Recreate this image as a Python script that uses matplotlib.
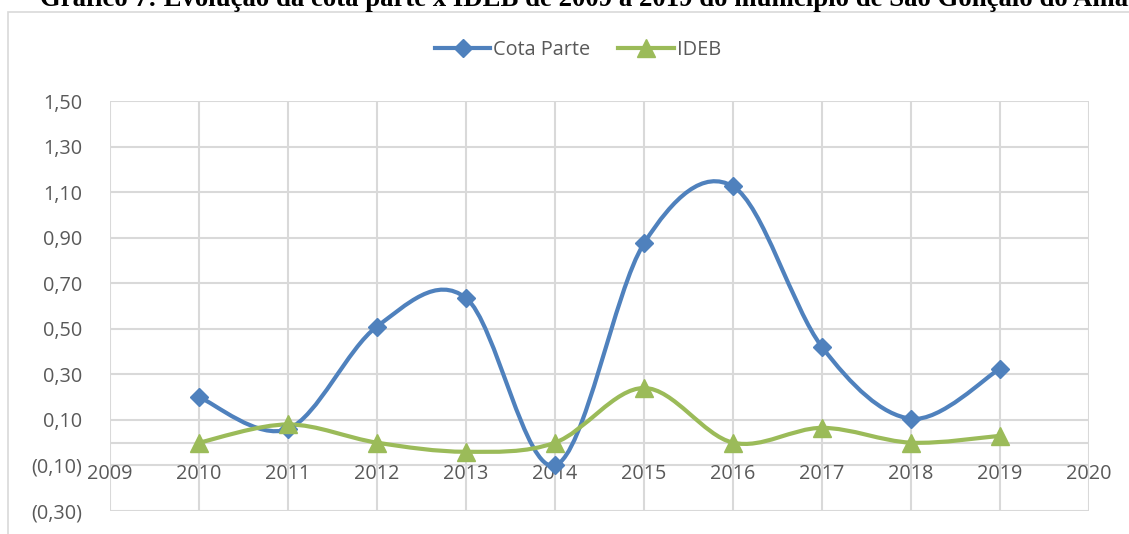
import numpy as np
import matplotlib
matplotlib.use("Agg")
import matplotlib.pyplot as plt
from matplotlib.path import Path
from matplotlib.patches import PathPatch, Rectangle
from matplotlib.lines import Line2D

years = [2010, 2011, 2012, 2013, 2014, 2015, 2016, 2017, 2018, 2019]
cota_parte = [0.20, 0.06, 0.51, 0.635, -0.10, 0.875, 1.125, 0.42, 0.105, 0.325]
ideb = [0.00, 0.08, 0.00, -0.04, 0.00, 0.24, 0.00, 0.065, 0.00, 0.03]
x_ticks = list(range(2009, 2021))
y_ticks = [-0.30, -0.10, 0.10, 0.30, 0.50, 0.70, 0.90, 1.10, 1.30, 1.50]
title = "Gráfico 7: Evolução da cota parte x IDEB de 2009 a 2019 do município de São Gonçalo do Amarante"

BLUE = "#4F81BD"
GREEN = "#9BBB59"
GRID = "#D9D9D9"
TXT = "#595959"
FONT = "Open Sans"
FS = 14.3

W, H = 1129, 534
fig = plt.figure(figsize=(W / 100, H / 100), dpi=100)

# outer chart frame
fig.patches.append(Rectangle((8 / W, -0.1), 1.2, 1 - 12 / H + 0.1, transform=fig.transFigure,
                             fill=False, edgecolor="#D9D9D9", linewidth=1.2))

fig.text(40 / W, 1 - 6 / H, title, ha="left", va="baseline", fontsize=19.3,
         fontweight="bold", family="Liberation Serif", color="black")

ax = fig.add_axes([110 / W, 1 - 511 / H, (1089 - 110) / W, (511 - 101) / H])
ax.set_xlim(2009, 2020)
ax.set_ylim(-0.30, 1.50)
for s in ax.spines.values():
    s.set_visible(False)
ax.set_xticks(x_ticks)
ax.set_yticks(y_ticks)
ax.tick_params(length=0)
ax.set_yticklabels([("(%.2f)" % abs(v)).replace(".", ",") if v < 0 else ("%.2f" % v).replace(".", ",")
                    for v in y_ticks], fontsize=FS, color=TXT, family=FONT)
ax.tick_params(axis="y", pad=20)
ax.set_xticklabels([])
for v in y_ticks:
    ax.axhline(v, color=GRID, lw=1.5, zorder=0)
for v in x_ticks:
    ax.axvline(v, color=GRID, lw=1.5, zorder=0)
ax.axhline(0, color=GRID, lw=1.5, zorder=0)
for v in x_ticks:
    ax.annotate(str(v), xy=(v, 0), xytext=(0, -31), textcoords="offset pixels",
                ha="center", va="center", fontsize=FS, color=TXT, family=FONT)


def smooth_path(xs, ys):
    pts = np.column_stack([xs, ys]).astype(float)
    n = len(pts)
    verts = [pts[0]]
    codes = [Path.MOVETO]
    for i in range(n - 1):
        p0 = pts[i - 1] if i > 0 else pts[i]
        p1 = pts[i]
        p2 = pts[i + 1]
        p3 = pts[i + 2] if i + 2 < n else pts[i + 1]
        c1 = p1 + (p2 - p0) / 6.0
        c2 = p2 - (p3 - p1) / 6.0
        verts += [c1, c2, p2]
        codes += [Path.CURVE4] * 3
    return Path(verts, codes)


for ys, col, mk, ms in [(cota_parte, BLUE, "D", 9.5), (ideb, GREEN, "^", 12.5)]:
    ax.add_patch(PathPatch(smooth_path(years, ys), fill=False, edgecolor=col, lw=3,
                           capstyle="round", joinstyle="round", zorder=3))
    ax.plot(years, ys, linestyle="none", marker=mk, markersize=ms, color=col, zorder=4)

handles = [Line2D([], [], color=BLUE, lw=3, marker="D", markersize=9.5),
           Line2D([], [], color=GREEN, lw=3, marker="^", markersize=12.5)]
leg = fig.legend(handles, ["Cota Parte", "IDEB"], loc="center", bbox_to_anchor=(578 / W, 1 - 50 / H),
                 ncol=2, frameon=False, handlelength=2.8, handletextpad=0.15, columnspacing=1.4,
                 prop={"family": FONT, "size": FS})
for t in leg.get_texts():
    t.set_color(TXT)

fig.savefig("out.png", dpi=100)
